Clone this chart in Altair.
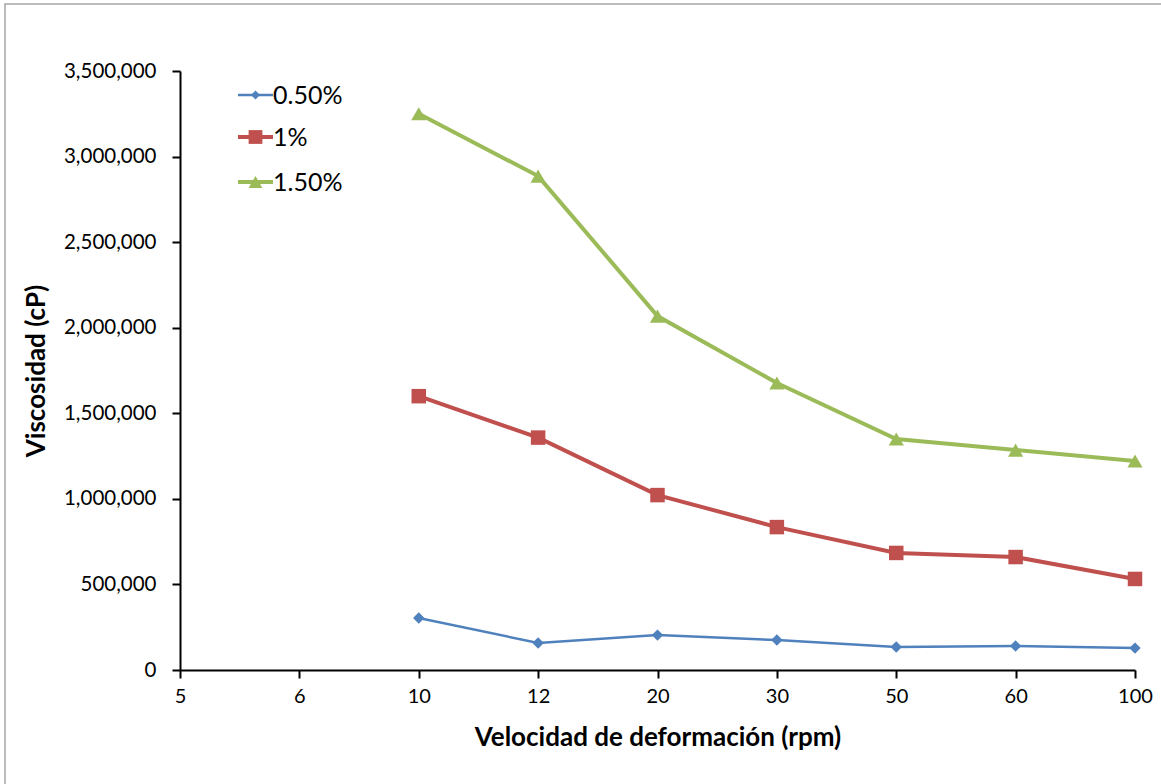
import altair as alt
import pandas as pd

# Shear rate categories (rpm) shown on the x axis
rpm_categories = ["5", "6", "10", "12", "20", "30", "50", "60", "100"]
rpm_measured = ["10", "12", "20", "30", "50", "60", "100"]

# Viscosity (cP) for each concentration
visc_050 = [304000, 158000, 204000, 175000, 134000, 140000, 128000]
visc_100 = [1600000, 1358000, 1022000, 835000, 684000, 660000, 532000]
visc_150 = [3250000, 2886000, 2068000, 1677000, 1350000, 1285000, 1221000]

series_names = ["0.50%", "1%", "1.50%"]
series_colors = ["#4F81BD", "#C0504D", "#9BBB59"]

rows = []
for name, vals in zip(series_names, [visc_050, visc_100, visc_150]):
    for r, v in zip(rpm_measured, vals):
        rows.append({"rpm": r, "visc": v, "serie": name})
df = pd.DataFrame(rows)

FONT = "Lato"
W, H = 955, 599

x_enc = alt.X(
    "rpm:N",
    sort=rpm_categories,
    scale=alt.Scale(domain=rpm_categories, type="point", padding=0),
    axis=alt.Axis(
        title="Velocidad de deformación (rpm)",
        labelAngle=0,
        labelFontSize=20,
        labelPadding=8,
        titleFontSize=26,
        titleFontWeight="bold",
        titlePadding=18,
        tickSize=8,
        grid=False,
    ),
)
y_enc = alt.Y(
    "visc:Q",
    scale=alt.Scale(domain=[0, 3500000], nice=False),
    axis=alt.Axis(
        title="Viscosidad (cP)",
        values=list(range(0, 3500001, 500000)),
        format=",d",
        labelFontSize=20.5,
        labelPadding=16,
        titleFontSize=26,
        titleFontWeight="bold",
        titlePadding=14,
        tickSize=8,
        grid=False,
    ),
)

def series_layer(name, color, shape, size, width):
    sub = df[df["serie"] == name]
    base = alt.Chart(sub).encode(x=x_enc, y=y_enc)
    line = base.mark_line(color=color, strokeWidth=width)
    pts = base.mark_point(color=color, filled=True, opacity=1, shape=shape, size=size)
    return line + pts

layers = [
    series_layer("0.50%", series_colors[0], "diamond", 130, 2.5),
    series_layer("1%", series_colors[1], "square", 210, 4),
    series_layer("1.50%", series_colors[2], "triangle-up", 230, 4),
]

# Legend drawn in the upper-left of the plot area
legend_spec = [
    ("0.50%", series_colors[0], "diamond", 80, 2.5, 24),
    ("1%", series_colors[1], "square", 190, 4, 66),
    ("1.50%", series_colors[2], "triangle-up", 190, 4, 111),
]
legend_layers = []
anchor = alt.Chart(pd.DataFrame({"k": [0]}))
for label, color, shape, size, width, ly in legend_spec:
    legend_layers.append(
        anchor.mark_rule(color=color, strokeWidth=width).encode(
            x=alt.value(58), x2=alt.value(93), y=alt.value(ly)
        )
    )
    legend_layers.append(
        anchor.mark_point(color=color, filled=True, opacity=1, shape=shape, size=size).encode(
            x=alt.value(75.5), y=alt.value(ly)
        )
    )
    legend_layers.append(
        anchor.mark_text(text=label, align="left", baseline="middle", fontSize=25, font=FONT, color="#000000").encode(
            x=alt.value(93), y=alt.value(ly + 1)
        )
    )

# Outer frame around the whole chart
frame = anchor.mark_rect(fill=None, stroke="#A6A6A6", strokeWidth=1.5, clip=False).encode(
    x=alt.value(-175), x2=alt.value(1000), y=alt.value(-67), y2=alt.value(730)
)

chart = alt.layer(frame, *layers, *legend_layers).properties(
    width=W,
    height=H,
    autosize=alt.AutoSizeParams(type="none"),
    padding={"left": 180, "top": 71, "right": 26, "bottom": 114},
    background="white",
).configure_view(stroke=None).configure_axis(
    domainColor="#000000",
    domainWidth=2,
    tickColor="#000000",
    tickWidth=2,
    labelColor="#000000",
    titleColor="#000000",
    labelFont=FONT,
    titleFont=FONT,
)

chart.save("out.html", embed_options={"renderer": "svg", "actions": False})
